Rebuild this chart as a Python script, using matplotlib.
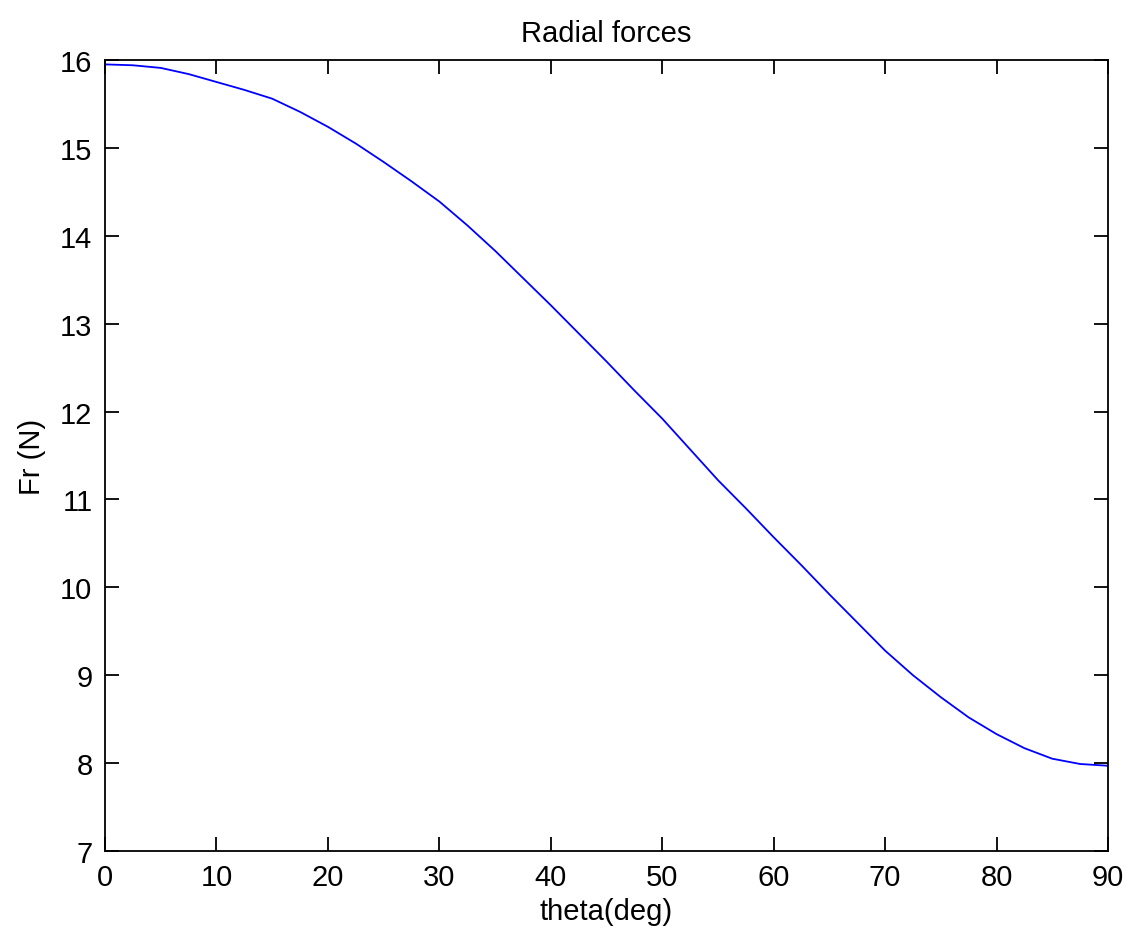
import matplotlib.pyplot as plt
import numpy as np

plt.rcParams['font.family'] = ['Liberation Sans', 'DejaVu Sans']

# values (every 2.5 deg)
theta_deg = [0, 2.5, 5, 7.5, 10, 12.5, 15, 17.5, 20, 22.5, 25, 27.5, 30, 32.5,
             35, 37.5, 40, 42.5, 45, 47.5, 50, 52.5, 55, 57.5, 60, 62.5,
             65, 67.5, 70, 72.5, 75, 77.5, 80, 82.5, 85, 87.5, 90]
fr_newton = [15.95, 15.94, 15.91, 15.84, 15.75, 15.66, 15.56, 15.41, 15.24, 15.05,
             14.84, 14.62, 14.39, 14.12, 13.83, 13.52, 13.21, 12.89, 12.57, 12.24,
             11.92, 11.57, 11.22, 10.90, 10.57, 10.25, 9.92, 9.60, 9.28, 9.00,
             8.75, 8.52, 8.33, 8.17, 8.05, 7.99, 7.97]

x_ticks = np.arange(0, 91, 10)
y_ticks = np.arange(7, 17, 1)

fig = plt.figure(figsize=(11.29, 9.37), dpi=100)
ax = fig.add_axes([105 / 1129, 1 - 852 / 937, (1108 - 105) / 1129, (852 - 61) / 937])

ax.plot(theta_deg, fr_newton, color='#0000ff', linewidth=1.3)

ax.set_xlim(0, 90)
ax.set_ylim(7, 16)
ax.set_xticks(x_ticks)
ax.set_yticks(y_ticks)
ax.tick_params(direction='in', length=10, width=1.3, labelsize=21,
               top=True, right=True, pad=9)
for s in ax.spines.values():
    s.set_linewidth(1.3)

ax.set_title('Radial forces', fontsize=21, pad=14)
ax.set_xlabel('theta(deg)', fontsize=21, labelpad=4)
ax.set_ylabel('Fr (N)', fontsize=21, labelpad=10)

fig.savefig('out.png', dpi=100)
